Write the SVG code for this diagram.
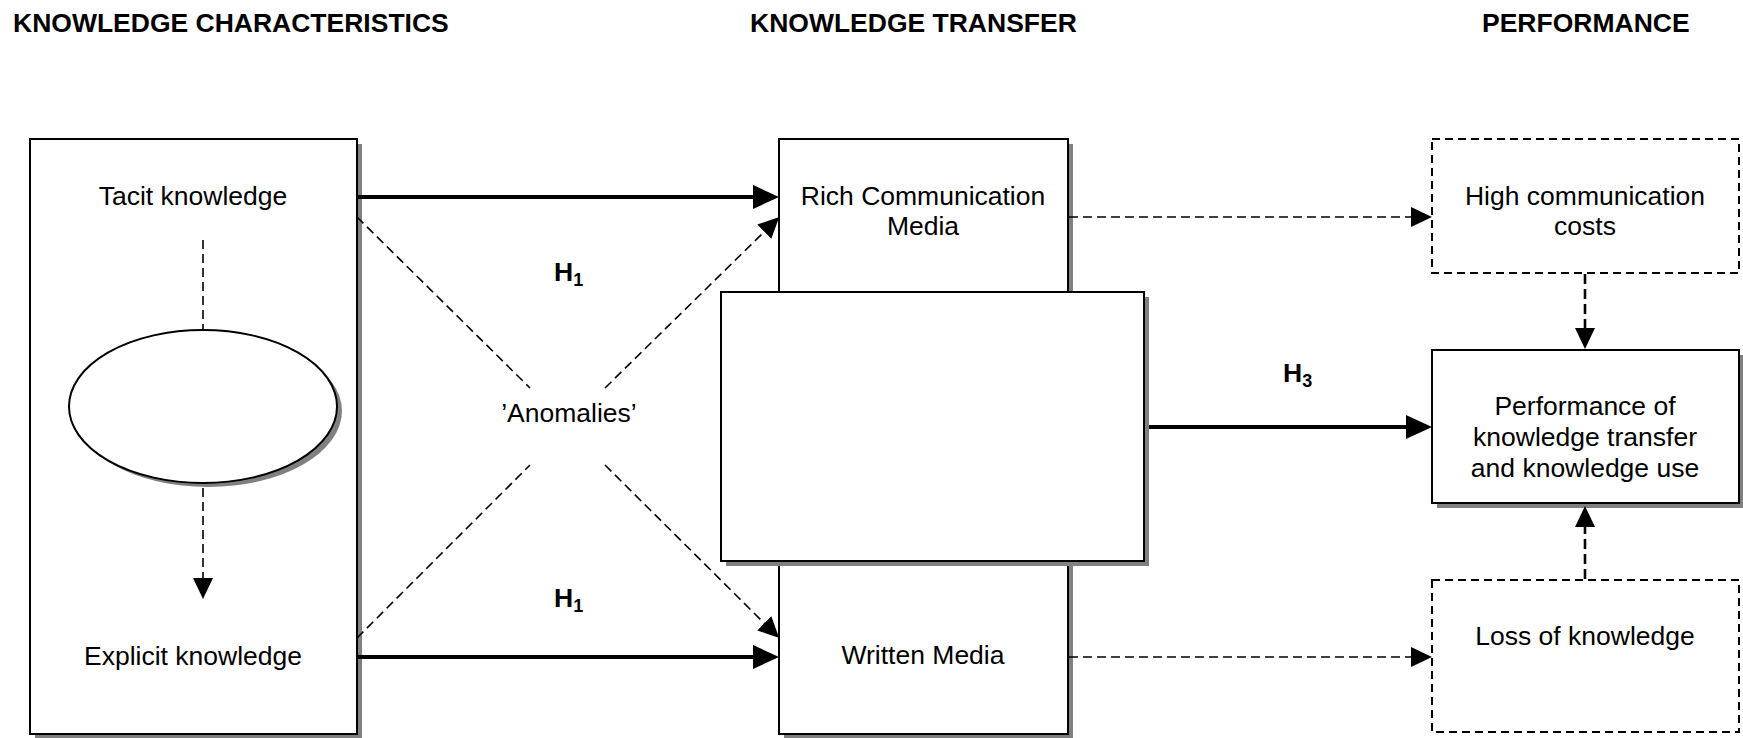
<svg xmlns="http://www.w3.org/2000/svg" width="1743" height="738" viewBox="0 0 1743 738">
<style>
text{font-family:"Liberation Sans",Arial,sans-serif;fill:#000}
.hdr{font-size:26.5px;font-weight:bold}
.lbl{font-size:26.5px;text-anchor:middle}
.hyp{font-size:26.5px;font-weight:bold}
.sub{font-size:18px}
.box{fill:#fff;stroke:#000;stroke-width:2}
.dbox{fill:#fff;stroke:#000;stroke-width:2;stroke-dasharray:8 5}
.sh{fill:#808080}
.solid{stroke:#000;stroke-width:4;fill:none}
.dash{stroke:#000;stroke-width:1.6;fill:none;stroke-dasharray:9 5}
.dashb{stroke:#000;stroke-width:2.6;fill:none;stroke-dasharray:10 5}
</style>
<defs>
<marker id="big" markerUnits="userSpaceOnUse" markerWidth="30" markerHeight="26" refX="1" refY="12" orient="auto"><path d="M0,0 L26,12 L0,24 z" fill="#000"/></marker>
<marker id="sm" markerUnits="userSpaceOnUse" markerWidth="24" markerHeight="22" refX="1" refY="10" orient="auto"><path d="M0,0 L21,10 L0,20 z" fill="#000"/></marker>
</defs>
<rect width="1743" height="738" fill="#fff"/>
<g id="headers">
<text class="hdr" x="13" y="32">KNOWLEDGE CHARACTERISTICS</text>
<text class="hdr" x="750" y="32">KNOWLEDGE TRANSFER</text>
<text class="hdr" x="1482" y="32">PERFORMANCE</text>
</g>
<g id="knowledge">
<rect class="sh" x="35" y="144" width="327" height="595"/>
<rect class="box" x="30" y="139" width="327" height="595"/>
<text class="lbl" x="193" y="205">Tacit knowledge</text>
<text class="lbl" x="193" y="665">Explicit knowledge</text>
</g>
<g id="ellipse">
<ellipse class="sh" cx="208" cy="411" rx="134" ry="76"/>
<ellipse class="box" cx="203" cy="406.5" rx="134" ry="76.5"/>
</g>
<g id="rich">
<rect class="sh" x="784" y="144" width="289" height="200"/>
<rect class="box" x="779" y="139" width="289" height="200"/>
<text class="lbl" x="923" y="205">Rich Communication</text>
<text class="lbl" x="923" y="235">Media</text>
</g>
<g id="written">
<rect class="sh" x="784" y="505" width="289" height="234"/>
<rect class="box" x="779" y="500" width="289" height="234"/>
<text class="lbl" x="923" y="664">Written Media</text>
</g>
<g id="middle">
<rect class="sh" x="726" y="297" width="423" height="269"/>
<rect class="box" x="721" y="292" width="423" height="269"/>
</g>
<g id="highcost">
<rect class="dbox" x="1432" y="139" width="307" height="134"/>
<text class="lbl" x="1585" y="205">High communication</text>
<text class="lbl" x="1585" y="235">costs</text>
</g>
<g id="perf">
<rect class="sh" x="1437" y="355" width="307" height="153"/>
<rect class="box" x="1432" y="350" width="307" height="153"/>
<text class="lbl" x="1585" y="415">Performance of</text>
<text class="lbl" x="1585" y="446">knowledge transfer</text>
<text class="lbl" x="1585" y="477">and knowledge use</text>
</g>
<g id="loss">
<rect class="dbox" x="1432" y="580" width="307" height="152"/>
<text class="lbl" x="1585" y="645">Loss of knowledge</text>
</g>
<g id="labels">
<text class="lbl" x="569" y="422">’Anomalies’</text>
<text class="hyp" x="554" y="281">H<tspan class="sub" dy="5">1</tspan></text>
<text class="hyp" x="554" y="607">H<tspan class="sub" dy="5">1</tspan></text>
<text class="hyp" x="1283" y="382">H<tspan class="sub" dy="5">3</tspan></text>
</g>
<g id="connectors">
<line class="solid" x1="357" y1="197" x2="754" y2="197" marker-end="url(#big)"/>
<line class="solid" x1="357" y1="657" x2="754" y2="657" marker-end="url(#big)"/>
<line class="solid" x1="1149" y1="427" x2="1407" y2="427" marker-end="url(#big)"/>
<line class="dash" x1="357" y1="217" x2="530" y2="388"/>
<line class="dash" x1="605" y1="388" x2="765" y2="231" marker-end="url(#sm)"/>
<line class="dash" x1="357" y1="638" x2="530" y2="465"/>
<line class="dash" x1="605" y1="465" x2="765" y2="624" marker-end="url(#sm)"/>
<line class="dash" x1="203" y1="240" x2="203" y2="330"/>
<line class="dash" x1="203" y1="488" x2="203" y2="579" marker-end="url(#sm)"/>
<line class="dash" x1="1069" y1="217" x2="1412" y2="217" marker-end="url(#sm)"/>
<line class="dash" x1="1069" y1="657" x2="1412" y2="657" marker-end="url(#sm)"/>
<line class="dashb" x1="1585" y1="274" x2="1585" y2="329" marker-end="url(#sm)"/>
<line class="dashb" x1="1585" y1="579" x2="1585" y2="526" marker-end="url(#sm)"/>
</g>
</svg>
